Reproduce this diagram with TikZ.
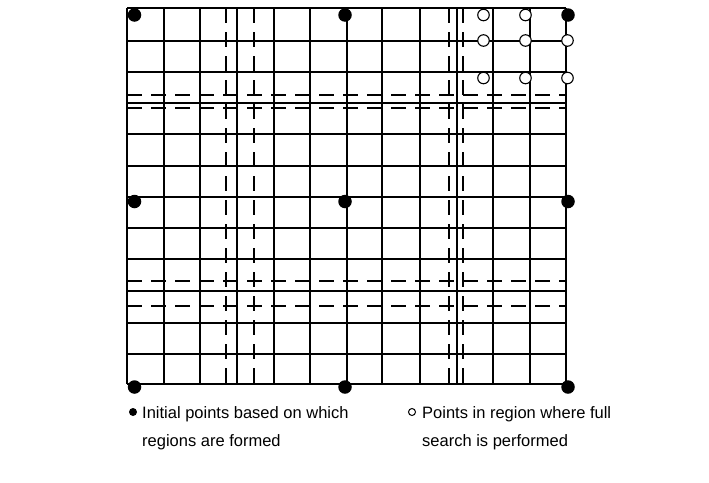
\documentclass[tikz,border=0pt]{standalone}
\usepackage{fontspec}
\setmainfont{Liberation Sans}
\usetikzlibrary{positioning}
\tikzset{
	gridline/.style={line width=1.5pt, draw=black},
	splitline/.style={line width=1.5pt, draw=black, dash pattern=on 15pt off 9pt},
	initpt/.style={circle, fill=black, inner sep=0pt, minimum size=13.5pt},
	searchpt/.style={circle, draw=black, fill=white, line width=1.1pt, inner sep=0pt, minimum size=11.5pt},
	keyinit/.style={circle, fill=black, inner sep=0pt, minimum size=8pt},
	keysearch/.style={circle, draw=black, fill=white, line width=1pt, inner sep=0pt, minimum size=7pt},
	keytext/.style={anchor=base west, inner sep=0pt, font=\fontsize{16.5}{20}\selectfont},
}
\begin{document}
\begin{tikzpicture}[x=1pt, y=-1pt]
		\useasboundingbox (0,0) rectangle (709,482);
		% grid
		\foreach \x in {127, 164, 200, 237, 274, 310, 347, 382, 420, 457, 493, 530, 566}
			\draw[gridline] (\x, 8) -- (\x, 384);
		\foreach \y in {8, 41, 72, 103, 134, 166, 197, 228, 259, 291, 323, 354, 384}
			\draw[gridline] (127, \y) -- (566, \y);
		% region borders
		\foreach \x in {226, 254, 449, 463}
			\draw[splitline] (\x, 8) -- (\x, 384);
		\foreach \y in {95, 108, 281, 306}
			\draw[splitline] (127, \y) -- (566, \y);
		% initial points
		\node[initpt] (init-1-1) at (134.5, 15) {};
		\node[initpt] (init-1-2) at (345, 15) {};
		\node[initpt] (init-1-3) at (568, 15) {};
		\node[initpt] (init-2-1) at (134.5, 201.5) {};
		\node[initpt] (init-2-2) at (345, 201.5) {};
		\node[initpt] (init-2-3) at (568, 201.5) {};
		\node[initpt] (init-3-1) at (134.5, 387) {};
		\node[initpt] (init-3-2) at (345, 387) {};
		\node[initpt] (init-3-3) at (568, 387) {};
		% full search points
		\node[searchpt] (srch-1-1) at (483.5, 15) {};
		\node[searchpt] (srch-1-2) at (525.5, 15) {};
		\node[searchpt] (srch-2-1) at (483.5, 40.5) {};
		\node[searchpt] (srch-2-2) at (525.5, 40.5) {};
		\node[searchpt] (srch-2-3) at (567.5, 40.5) {};
		\node[searchpt] (srch-3-1) at (483.5, 78) {};
		\node[searchpt] (srch-3-2) at (525.5, 78) {};
		\node[searchpt] (srch-3-3) at (567.5, 78) {};
		% legend
		\node[keyinit] (key-init) at (133, 412) {};
		\node[keytext] (txt-init-a) at (142, 418) {Initial points based on which};
		\node[keytext] (txt-init-b) at (142, 446) {regions are formed};
		\node[keysearch] (key-srch) at (412, 412) {};
		\node[keytext] (txt-srch-a) at (422, 418) {Points in region where full};
		\node[keytext] (txt-srch-b) at (422, 446) {search is performed};
	\end{tikzpicture}
\end{document}
